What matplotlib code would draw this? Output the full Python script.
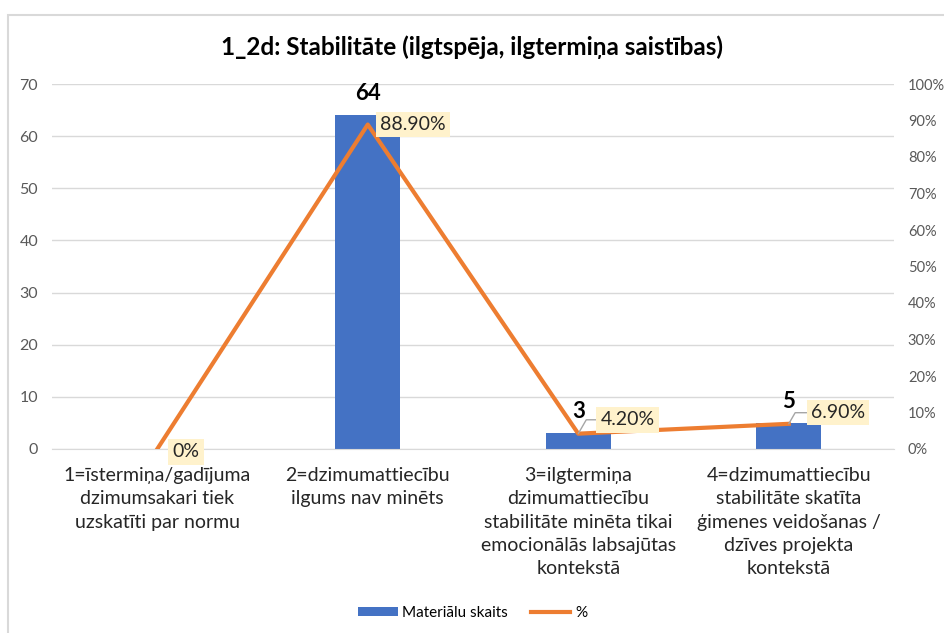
import matplotlib
matplotlib.use('Agg')
import matplotlib.pyplot as plt
from matplotlib.patches import Rectangle
from matplotlib.ticker import PercentFormatter

plt.rcParams['font.family'] = ['Lato', 'DejaVu Sans']

categories = [
    '1=īstermiņa/gadījuma\ndzimumsakari tiek\nuzskatīti par normu',
    '2=dzimumattiecību\nilgums nav minēts',
    '3=ilgtermiņa\ndzimumattiecību\nstabilitāte minēta tikai\nemocionālās labsajūtas\nkontekstā',
    '4=dzimumattiecību\nstabilitāte skatīta\nģimenes veidošanas /\ndzīves projekta\nkontekstā',
]
counts = [0, 64, 3, 5]
percents = [0, 88.9, 4.2, 6.9]
pct_labels = ['0%', '88.90%', '4.20%', '6.90%']

blue = '#4472C4'
orange = '#ED7D31'
grey_txt = '#595959'

fig = plt.figure(figsize=(9.45, 6.33), dpi=100)
fig.patches.append(Rectangle((8 / 945, -0.1), 1, 1.1 - 15 / 633, transform=fig.transFigure,
                             fill=False, edgecolor='#D9D9D9', lw=1.5))
ax = fig.add_axes([52 / 945, 1 - 449 / 633, 842 / 945, 365 / 633])
ax2 = ax.twinx()

x = list(range(len(categories)))
bars = ax.bar(x, counts, width=0.31, color=blue, label='Materiālu skaits', zorder=2)
ax.set_ylim(0, 70)
ax.set_yticks(range(0, 71, 10))
ax.set_xlim(-0.5, len(categories) - 0.5)
ax.set_xticks(x)
ax.set_xticklabels(categories, fontsize=14, color='#262626', linespacing=1.45)
ax.grid(axis='y', color='#D9D9D9', lw=1, zorder=0)
ax.set_axisbelow(True)
ax.tick_params(axis='y', length=0, labelsize=11.5, colors=grey_txt, pad=10)
ax.tick_params(axis='x', length=0, pad=13)
for s in ['top', 'right', 'left']:
    ax.spines[s].set_visible(False)
ax.spines['bottom'].set_color('#D9D9D9')

line, = ax2.plot(x, percents, color=orange, lw=3, label='%', zorder=3)
ax2.set_ylim(0, 100)
ax2.set_yticks(range(0, 101, 10))
ax2.yaxis.set_major_formatter(PercentFormatter(decimals=0))
ax2.tick_params(axis='y', length=0, labelsize=10.5, colors=grey_txt, pad=10)
for s in ['top', 'right', 'left', 'bottom']:
    ax2.spines[s].set_visible(False)

# bar value labels
for i, c in enumerate(counts):
    if c == 0:
        continue
    ax.annotate(str(c), (x[i], c), xytext=(0, 8), textcoords='offset points',
                ha='center', va='bottom', fontsize=16, fontweight='bold')

# percent labels
pct_offsets = [(11, -2), (9, 0), (16, 10), (16, 8)]
leaders = [False, False, True, True]
for i, (p, lab, off, ld) in enumerate(zip(percents, pct_labels, pct_offsets, leaders)):
    kw = {}
    if ld:
        kw['arrowprops'] = dict(arrowstyle='-', color='#A6A6A6', lw=1,
                                connectionstyle='angle,angleA=0,angleB=60,rad=0',
                                shrinkA=0, shrinkB=0)
    ax2.annotate(lab, (x[i], p), xytext=off, textcoords='offset points',
                 ha='left', va='center', fontsize=14, color='#262626', zorder=5,
                 bbox=dict(boxstyle='square,pad=0.22', fc='#FFF2CC', ec='none'), **kw)

fig.text(0.5, 1 - 47 / 633, '1_2d: Stabilitāte (ilgtspēja, ilgtermiņa saistības)',
         ha='center', va='center', fontsize=17.5, fontweight='bold')

fig.legend(handles=[bars, line], labels=['Materiālu skaits', '%'], loc='center',
           bbox_to_anchor=(0.5, 1 - 613 / 633), ncol=2, frameon=False, fontsize=11,
           handlelength=2.6, handleheight=0.5, columnspacing=1.5, handletextpad=0.3)

fig.savefig('out.png', dpi=100)
